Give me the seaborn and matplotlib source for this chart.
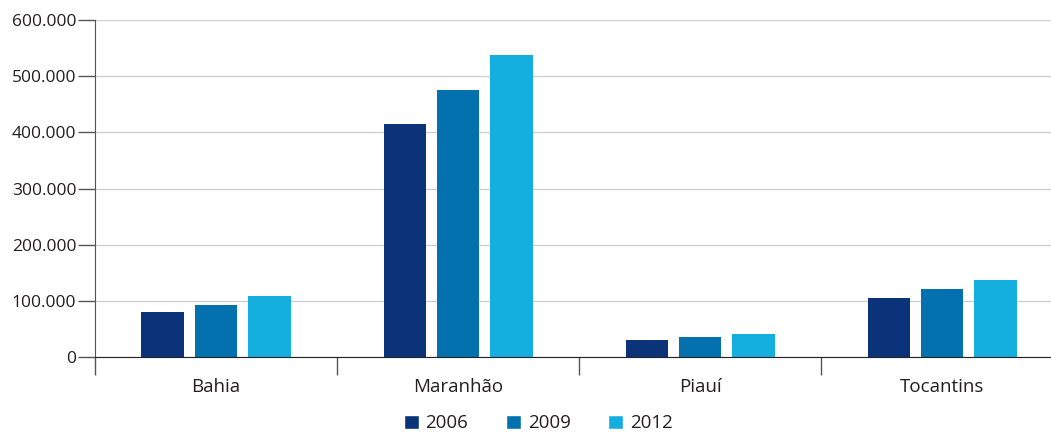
import matplotlib
matplotlib.use("Agg")
import matplotlib.pyplot as plt
from matplotlib.ticker import FuncFormatter, FixedLocator
from matplotlib.patches import Patch
import seaborn as sns
import pandas as pd

# values
states = ["Bahia", "Maranhão", "Piauí", "Tocantins"]
years = ["2006", "2009", "2012"]
v2006 = [80000, 414600, 30000, 105000]
v2009 = [92500, 475000, 35600, 121000]
v2012 = [108500, 537000, 41000, 137000]
colors = ["#0a337a", "#0271ae", "#14aedf"]

df = pd.DataFrame({
    "estado": states * 3,
    "ano": [y for y in years for _ in states],
    "valor": v2006 + v2009 + v2012,
})

sns.set_style("white")
plt.rcParams["font.family"] = ["Open Sans", "DejaVu Sans"]
txt = "#231f20"

fig = plt.figure(figsize=(10.51, 4.32), dpi=100)
ax = fig.add_axes([0.0904, 0.1736, 0.9096, 0.7801])

sns.barplot(data=df, x="estado", y="valor", hue="ano", palette=colors,
            saturation=1, width=0.66, gap=0.2, ax=ax, legend=False, linewidth=0)

ax.set_ylim(0, 600000)
ax.set_xlim(-0.5, 3.45)
ax.set_yticks(range(0, 600001, 100000))
ax.yaxis.set_major_formatter(FuncFormatter(lambda v, p: f"{int(v):,}".replace(",", ".")))
ax.grid(axis="y", color="#d0d0d0", linewidth=1)
ax.set_axisbelow(True)

for s in ["top", "right"]:
    ax.spines[s].set_visible(False)
ax.spines["left"].set_color("#555555")
ax.spines["bottom"].set_color("#222222")

ax.set_xlabel("")
ax.set_ylabel("")
ax.tick_params(axis="y", left=True, length=12, width=1, color="#555555",
               labelsize=12.5, labelcolor=txt, pad=1.5)
ax.tick_params(axis="x", which="major", bottom=True, length=0, labelsize=13.5,
               labelcolor=txt, pad=15)
ax.xaxis.set_minor_locator(FixedLocator([-0.5, 0.5, 1.5, 2.5]))
ax.tick_params(axis="x", which="minor", bottom=True, length=13, width=1, color="#555555")

handles = [Patch(facecolor=c, label=y) for c, y in zip(colors, years)]
leg = fig.legend(handles=handles, loc="lower center", ncol=3, frameon=False,
                 bbox_to_anchor=(0.512, -0.04), fontsize=13.5, handlelength=0.8,
                 handleheight=0.8, handletextpad=0.37, columnspacing=2.0)
for t in leg.get_texts():
    t.set_color(txt)

fig.savefig("out.png", dpi=100)
